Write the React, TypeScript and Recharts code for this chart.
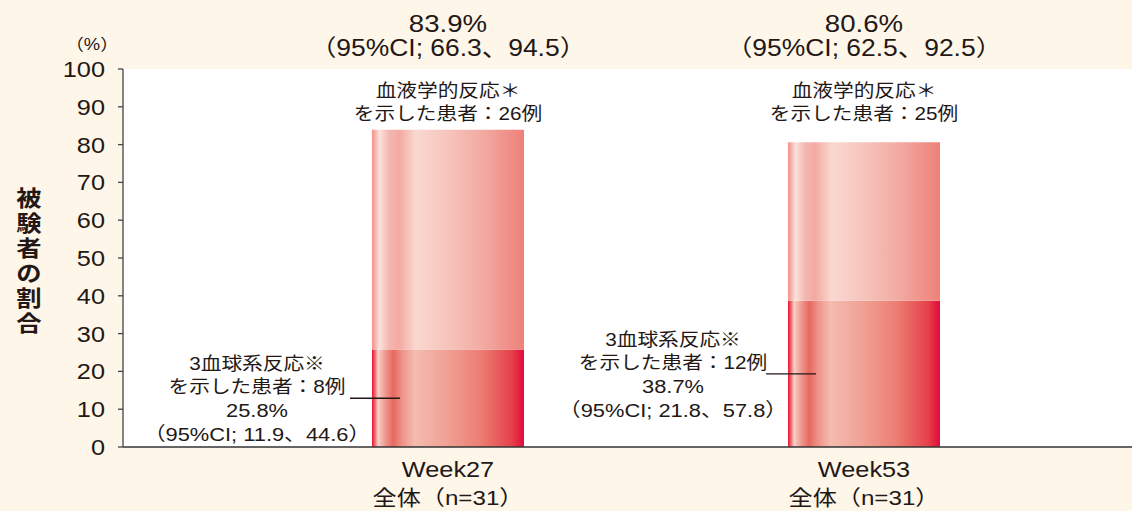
import React from 'react';
import { BarChart, Bar, XAxis, YAxis, CartesianGrid, LabelList, Label } from 'recharts';

const categories = ['Week27', 'Week53'];
const groupLabels = ['全体（n=31）', '全体（n=31）'];
const yTicks = [0, 10, 20, 30, 40, 50, 60, 70, 80, 90, 100];

// 血液学的反応
const hemaRate = [83.9, 80.6];
const hemaCI = ['66.3、94.5', '62.5、92.5'];
const hemaCount = [26, 25];

// 3血球系反応
const triRate = [25.8, 38.7];
const triCI = ['11.9、44.6', '21.8、57.8'];
const triCount = [8, 12];

const data = categories.map((name, i) => ({
  name,
  lower: triRate[i],
  upper: +(hemaRate[i] - triRate[i]).toFixed(1),
}));

const FONT = '"Liberation Sans", "Noto Sans CJK JP", sans-serif';
const INK = '#231815';
const SX = 1.15;

// text with a slight horizontal stretch, like the original typesetting
const T: React.FC<any> = ({ x, y, size, anchor = 'middle', weight = 'normal', children }) => (
  <text
    transform={`translate(${x},${y}) scale(${SX},1)`}
    textAnchor={anchor}
    fontSize={size}
    fontWeight={weight}
    fontFamily={FONT}
    fill={INK}
  >
    {children}
  </text>
);

const YTick: React.FC<any> = ({ x, y, payload }) => (
  <T x={x} y={y + 8} size={22} anchor="end">{payload.value}</T>
);

const XTick: React.FC<any> = ({ x, y, payload, index }) => (
  <g>
    <T x={x} y={y + 30} size={22}>{payload.value}</T>
    <T x={x} y={y + 58} size={21}>{groupLabels[index]}</T>
  </g>
);

const YTitle: React.FC<any> = () => (
  <g>
    <T x={92} y={50} size={16}>（%）</T>
    {'被験者の割合'.split('').map((c, i) => (
      <T key={i} x={29} y={206 + i * 25} size={22} weight="bold">{c}</T>
    ))}
  </g>
);

const TopLabel: React.FC<any> = ({ x, width, index }) => {
  const cx = x + width / 2;
  return (
    <g>
      <T x={cx} y={32} size={24}>{hemaRate[index].toFixed(1)}%</T>
      <T x={cx} y={56} size={23}>（95%CI; {hemaCI[index]}）</T>
      <T x={cx} y={97} size={18}>血液学的反応＊</T>
      <T x={cx} y={120} size={18}>を示した患者：{hemaCount[index]}例</T>
    </g>
  );
};

const LowerLabel: React.FC<any> = ({ x, y, height, index }) => {
  const ly = y + height / 2;
  const cx = x - 115;
  return (
    <g>
      <line x1={x - 22} x2={x + 28} y1={ly} y2={ly} stroke={INK} strokeWidth={1.3} />
      <T x={cx} y={ly - 28} size={18}>3血球系反応※</T>
      <T x={cx} y={ly - 5} size={18}>を示した患者：{triCount[index]}例</T>
      <T x={cx} y={ly + 19} size={19}>{triRate[index].toFixed(1)}%</T>
      <T x={cx} y={ly + 43} size={19}>（95%CI; {triCI[index]}）</T>
    </g>
  );
};

export default function App() {
  return (
    <div style={{ position: 'absolute', left: 0, top: 0, width: 1132, height: 511, background: '#fef6e9' }}>
      <BarChart width={1132} height={511} data={data} margin={{ top: 69, right: 0, bottom: 30, left: 63 }}>
        <defs>
          <linearGradient id="gradLower" x1="0" y1="0" x2="1" y2="0">
            <stop offset="0%" stopColor="#e3153d" />
            <stop offset="2%" stopColor="#ec6a6c" />
            <stop offset="4%" stopColor="#f8d0c8" />
            <stop offset="8%" stopColor="#f0a098" />
            <stop offset="14%" stopColor="#e86860" />
            <stop offset="20%" stopColor="#ef948a" />
            <stop offset="28%" stopColor="#f5bcb0" />
            <stop offset="50%" stopColor="#f0a094" />
            <stop offset="73%" stopColor="#ec7a70" />
            <stop offset="92%" stopColor="#e6404a" />
            <stop offset="100%" stopColor="#e20a3c" />
          </linearGradient>
          <linearGradient id="gradUpper" x1="0" y1="0" x2="1" y2="0">
            <stop offset="0%" stopColor="#f09088" />
            <stop offset="5%" stopColor="#fbe2dc" />
            <stop offset="11%" stopColor="#f4b8b0" />
            <stop offset="18%" stopColor="#f3aaa2" />
            <stop offset="29%" stopColor="#fad8d0" />
            <stop offset="50%" stopColor="#f6c4bc" />
            <stop offset="73%" stopColor="#f2aaa2" />
            <stop offset="100%" stopColor="#ee8078" />
          </linearGradient>
        </defs>
        <CartesianGrid horizontal={false} vertical={false} fill="#ffffff" stroke="none" />
        <XAxis
          dataKey="name"
          padding={{ left: 117, right: 60 }}
          height={34}
          interval={0}
          tickLine={false}
          tickSize={0}
          tickMargin={0}
          axisLine={{ stroke: '#333', strokeWidth: 1.5 }}
          tick={<XTick />}
        />
        <YAxis
          type="number"
          domain={[0, 100]}
          ticks={yTicks}
          interval={0}
          width={60}
          tickSize={5}
          tickMargin={13}
          stroke="#444"
          axisLine={{ stroke: '#444', strokeWidth: 1.3 }}
          tickLine={{ stroke: '#444', strokeWidth: 1.3 }}
          tick={<YTick />}
        >
          <Label content={<YTitle />} />
        </YAxis>
        <Bar dataKey="lower" stackId="a" barSize={152} fill="url(#gradLower)" isAnimationActive={false}>
          <LabelList dataKey="lower" content={<LowerLabel />} />
        </Bar>
        <Bar dataKey="upper" stackId="a" barSize={152} fill="url(#gradUpper)" isAnimationActive={false}>
          <LabelList dataKey="upper" content={<TopLabel />} />
        </Bar>
      </BarChart>
    </div>
  );
}
